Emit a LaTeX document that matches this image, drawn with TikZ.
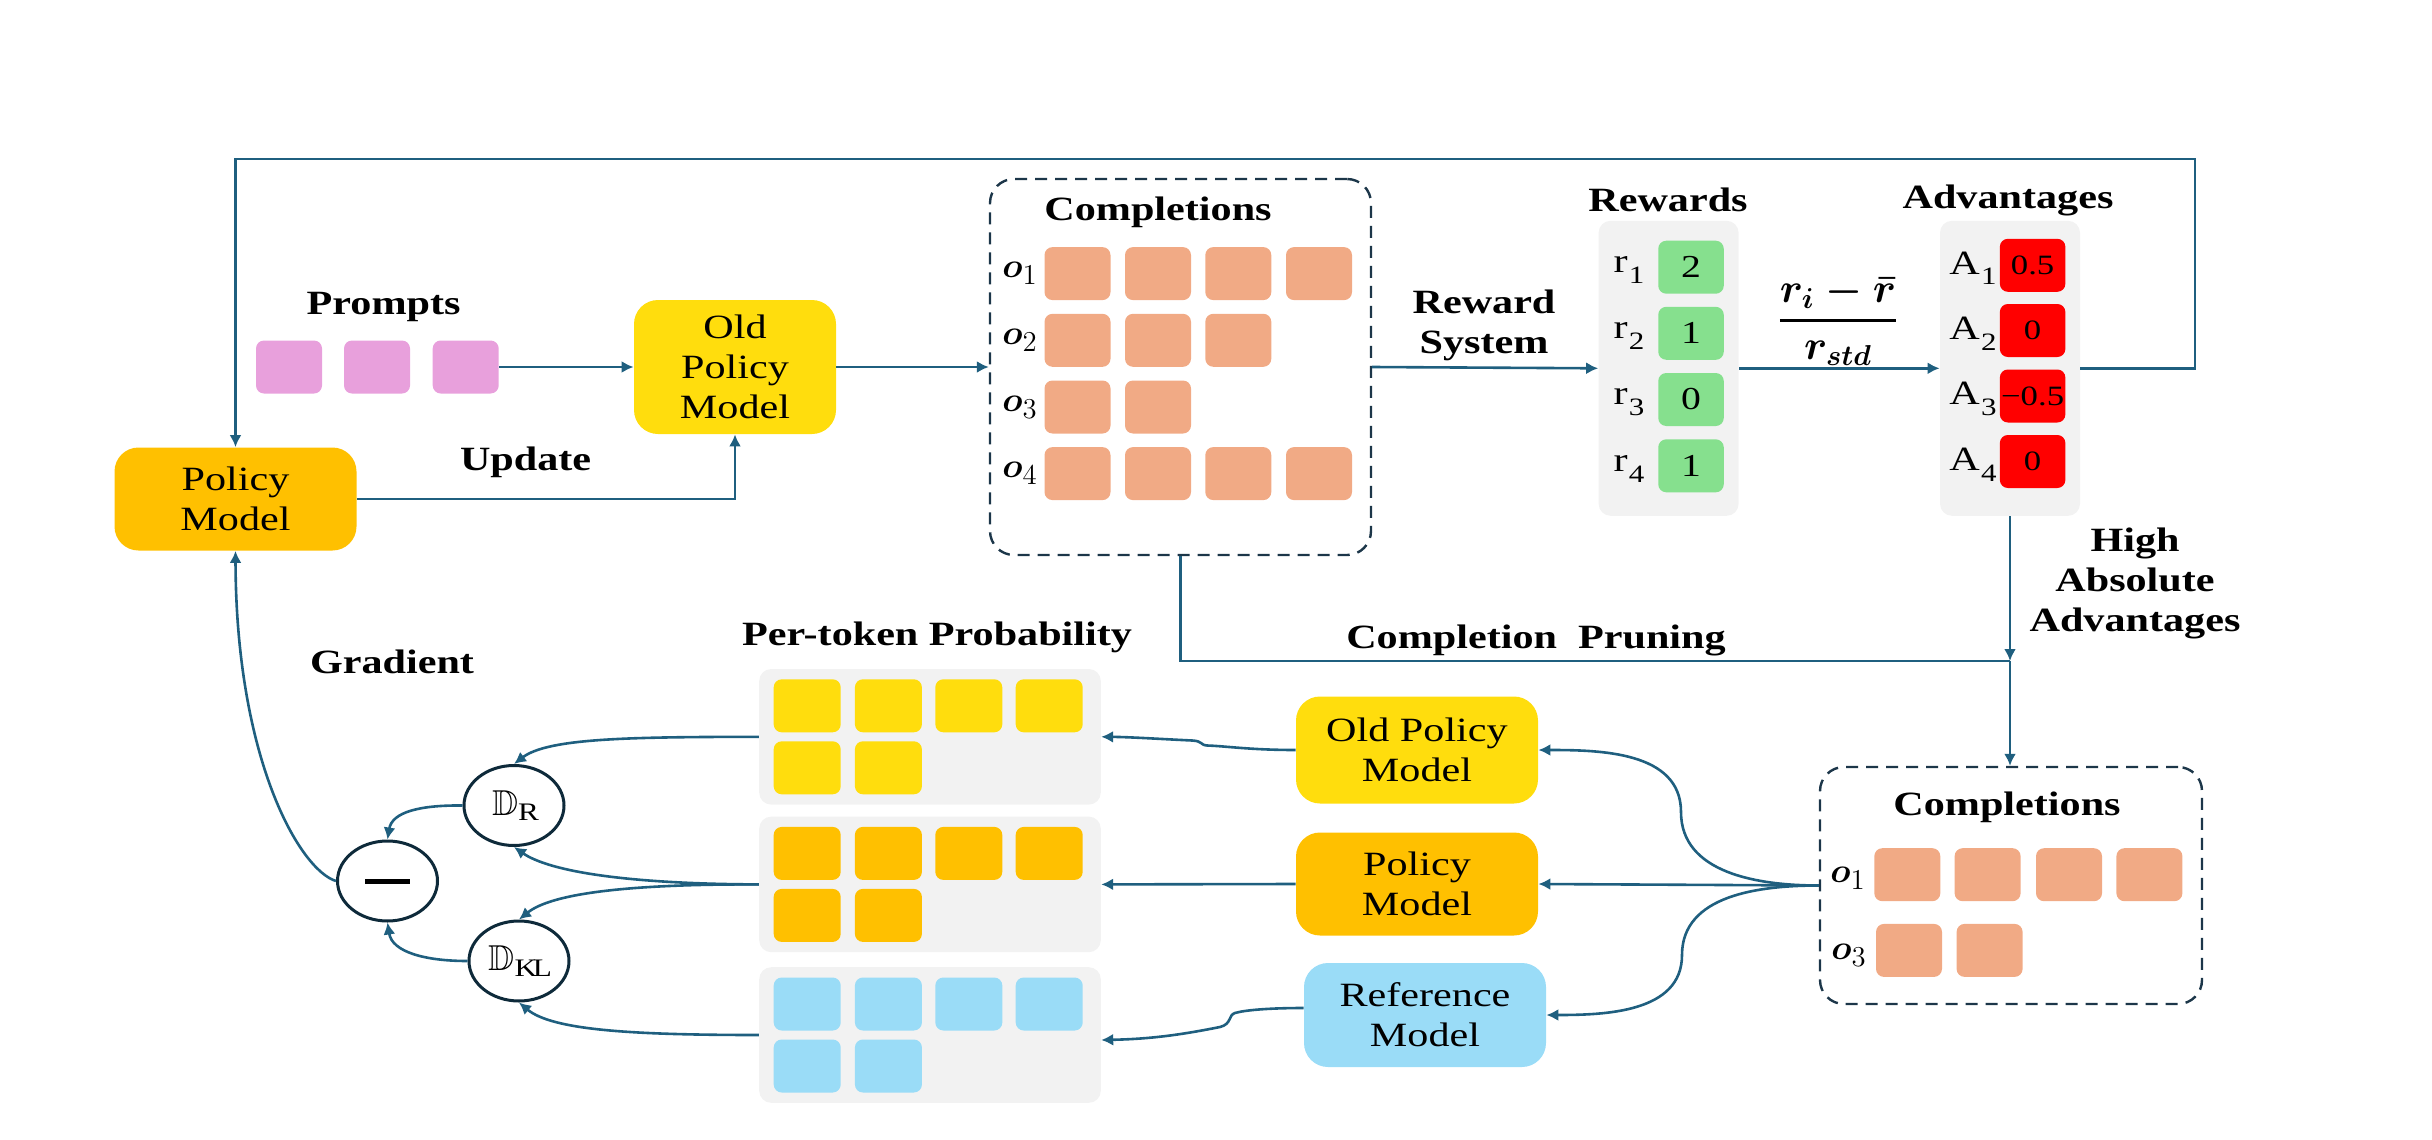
\documentclass[tikz,border=0pt]{standalone}
\usepackage{amsmath,amssymb}
\usepackage{fontspec}
\setmainfont{Liberation Serif}[FakeStretch=1.24]
\usetikzlibrary{arrows.meta,calc,shapes.geometric}
\definecolor{lc}{HTML}{1F5F7F}
\definecolor{pol}{HTML}{FFC000}
\definecolor{oldp}{HTML}{FFDD0D}
\definecolor{pinkc}{HTML}{E8A0DC}
\definecolor{salmon}{HTML}{F1AA85}
\definecolor{grn}{HTML}{86E08E}
\definecolor{redc}{HTML}{FF0000}
\definecolor{gpan}{HTML}{F2F2F2}
\definecolor{refb}{HTML}{9ADCF7}
\definecolor{dashc}{HTML}{1C3649}
\definecolor{circc}{HTML}{0E2A3A}
\newcommand{\myfL}{\fontsize{17}{20}\selectfont}
\newcommand{\myfM}{\fontsize{16}{18}\selectfont}
\newcommand{\myfS}{\fontsize{14}{15}\selectfont}
\newcommand{\lsub}[2]{#1\kern0.6pt\raisebox{-0.32em}{\fontsize{12.5}{12.5}\selectfont #2}}
\begin{document}
\begin{tikzpicture}[x=0.5pt,y=-0.5pt,
  arr/.style={draw=lc, line width=1.3pt, -{Latex[length=6pt,width=6pt]}},
  ln/.style={draw=lc, line width=1.3pt},
  model/.style={rounded corners=12pt, inner sep=0pt, align=center, font=\myfL},
  lbl/.style={font=\myfL\bfseries, align=center, inner sep=0pt},
  tok/.style={rounded corners=4pt, minimum width=33pt, minimum height=26.5pt, inner sep=0pt, font=\myfM},
  panel/.style={fill=gpan, rounded corners=6pt, inner sep=0pt},
  dbox/.style={draw=dashc, line width=1.2pt, dash pattern=on 6pt off 4pt, rounded corners=12pt, inner sep=0pt},
  circ/.style={ellipse, draw=circc, line width=1.5pt, minimum width=50pt, minimum height=40pt, inner sep=0pt, font=\fontsize{18}{20}\selectfont},
  mlab/.style={font=\myfL, inner sep=0pt},
  olab/.style={font=\fontsize{19}{20}\selectfont, inner sep=0pt}
]
\path[use as bounding box] (0,0) rectangle (2432,1140);

% ---------- top row ----------
\node[model, fill=pol, minimum width=121pt, minimum height=51.5pt] (policy) at (235.5,499) {Policy\\Model};
\node[model, fill=oldp, minimum width=101pt, minimum height=67pt] (old) at (735,367) {Old\\Policy\\Model};
\node[lbl] (prompts) at (383.6,307) {Prompts};
\foreach \i/\x in {1/289,2/377,3/465.7} \node[tok, fill=pinkc] (p\i) at (\x,367) {};
\node[lbl] (update) at (525.6,462) {Update};

\node[dbox, minimum width=190.5pt, minimum height=188pt] (comp) at (1180.5,367) {};
\node[lbl] (complbl) at (1158,212) {Completions};
\foreach \r/\y/\n in {1/273.6/4,2/340.3/3,3/407/2,4/473.6/4} {
  \node[olab] (o\r) at (1020,\y) {$\boldsymbol{o}_{\r}$};
  \foreach \c/\x in {1/1077.5,2/1158,3/1238.3,4/1319} {
    \ifnum\c>\n\relax\else
      \node[tok, fill=salmon] (t\r\c) at (\x,\y) {};
    \fi
  }
}

\node[panel, minimum width=70pt, minimum height=147.5pt] (rew) at (1668.6,368.3) {};
\node[lbl] (rewlbl) at (1668,200) {Rewards};
\foreach \i/\y/\v in {1/267.2/2,2/333.3/1,3/399.5/0,4/465.8/1} {
  \node[mlab] (rl\i) at (1629,\y+3) {\lsub{r}{\i}};
  \node[tok, fill=grn, minimum width=32.75pt] (rv\i) at (1691,\y) {\v};
}

\node[panel, minimum width=70pt, minimum height=147.5pt] (adv) at (2010,368.3) {};
\node[lbl] (advlbl) at (2008,200) {Advantages};
\foreach \i/\y/\v in {1/265.3/0.5,2/330.5/0,3/396/−0.5,4/461.5/0} {
  \node[mlab] (al\i) at (1973,\y+3) {\lsub{A}{\i}};
  \node[tok, fill=redc, minimum width=32.75pt, font=\myfS] (av\i) at (2032.6,\y) {\v};
}

\draw[arr] (p3.east) -- (old.west);
\draw[arr] (policy.east) -| (old.south);
\draw[arr] (old.east) -- (comp.west);
\draw[arr] (comp.east) -- (rew.west);
\draw[arr] (rew.east) -- (adv.west);
\node[lbl] (rslbl) at (1484,325) {Reward\\System};
\node[inner sep=0pt, font=\fontsize{20}{22}\selectfont] (frac) at (1838,321) {$\genfrac{}{}{1.3pt}{0}{\boldsymbol{r_i-\bar{r}}}{\boldsymbol{r_{std}}}$};

\coordinate (tr) at (2195,159);
\coordinate (tl) at (235.5,159);
\draw[arr] (adv.east) -| (tr) -- (tl) -- (policy.north);

% ---------- pruning ----------
\node[dbox, minimum width=191pt, minimum height=118.5pt] (lowcomp) at (2011,885.5) {};
\coordinate (jn) at (2010,661);
\draw[arr] (adv.south) -- (jn);
\draw[arr] (jn) -- (jn |- lowcomp.north);
\draw[ln] (comp.south) |- (jn);
\node[lbl] (hilbl) at (2135,583) {High\\Absolute\\Advantages};
\node[lbl] (prlbl) at (1536,640) {Completion~~Pruning};

\node[lbl] (lclbl) at (2007,807) {Completions};
\node[olab] (lo1) at (1848,878) {$\boldsymbol{o}_1$};
\node[olab] (lo3) at (1849,955) {$\boldsymbol{o}_3$};
\foreach \c/\x in {1/1907.3,2/1987.6,3/2069,4/2149.4} \node[tok, fill=salmon] (l1\c) at (\x,874.7) {};
\foreach \c/\x in {1/1909,2/1989.6} \node[tok, fill=salmon] (l3\c) at (\x,950.4) {};

% ---------- models ----------
\node[model, fill=oldp, minimum width=121pt, minimum height=53.5pt] (old2) at (1417,750) {Old Policy\\Model};
\node[model, fill=pol, minimum width=121pt, minimum height=51.5pt] (pol2) at (1417,884) {Policy\\Model};
\node[model, fill=refb, minimum width=121pt, minimum height=52pt] (ref) at (1425,1015) {Reference\\Model};

\draw[arr] (lowcomp.west) to[out=180,in=-90] (1681,812) to[out=90,in=0] (old2.east);
\draw[arr] (lowcomp.west) -- (pol2.east);
\draw[arr] (lowcomp.west) to[out=180,in=90] (1682,955) to[out=-90,in=0] (ref.east);

% ---------- per-token panels ----------
\node[lbl] (ptlbl) at (937,637) {Per-token Probability};
\node[panel, minimum width=170.8pt, minimum height=67.8pt] (ypan) at (930,736.8) {};
\node[panel, minimum width=170.8pt, minimum height=67.8pt] (opan) at (930,884.4) {};
\node[panel, minimum width=170.8pt, minimum height=67.8pt] (bpan) at (930,1035) {};
\foreach \p/\col in {ypan/oldp,opan/pol,bpan/refb} {
  \foreach \c/\dx in {1/-122.8,2/-41.6,3/38.8,4/119.2}
    \node[tok, fill=\col, minimum width=33.5pt] (\p a\c) at ($(\p)+(\dx,-31)$) {};
  \foreach \c/\dx in {1/-122.8,2/-41.6}
    \node[tok, fill=\col, minimum width=33.5pt] (\p b\c) at ($(\p)+(\dx,31)$) {};
}

\draw[arr] (old2.west) .. controls (1250,750) and (1225,746) .. (1207,745.5)
  .. controls (1200,745) and (1203,741) .. (1192,740.5)
  .. controls (1160,739) and (1130,737) .. (ypan.east);
\draw[arr] (pol2.west) -- (opan.east);
\draw[arr] ($(ref.west)+(0,-7)$) .. controls (1270,1008) and (1245,1010) .. (1235,1013)
  .. controls (1228,1015) and (1232,1024) .. (1220,1027)
  .. controls (1180,1035) and (1150,1039) .. ($(bpan.east)+(0,5)$);

% ---------- divergences ----------
\node[circ] (dr) at (514,805.5) {$\mathbb{D}_{\mathrm{R}}$};
\node[circ] (minus) at (387.5,881) {\rule{22.5pt}{2.5pt}};
\node[circ] (dkl) at (519,961) {$\mathbb{D}_{\mathrm{KL}}$};
\node[lbl] (gradlbl) at (392,662) {Gradient};

\draw[arr] (ypan.west) .. controls (630,737) and (548,738) .. (dr.north);
\draw[arr] (opan.west) .. controls (630,884) and (550,872) .. (dr.south);
\draw[arr] (opan.west) .. controls (630,884) and (552,893) .. (dkl.north);
\draw[arr] (bpan.west) .. controls (630,1035) and (552,1030) .. (dkl.south);
\draw[arr] (dr.west) .. controls (420,805) and (392,812) .. (minus.north);
\draw[arr] (dkl.west) .. controls (425,961) and (392,952) .. (minus.south);
\draw[arr] (minus.west) .. controls (300,870) and (236,760) .. (policy.south);
\end{tikzpicture}
\end{document}
